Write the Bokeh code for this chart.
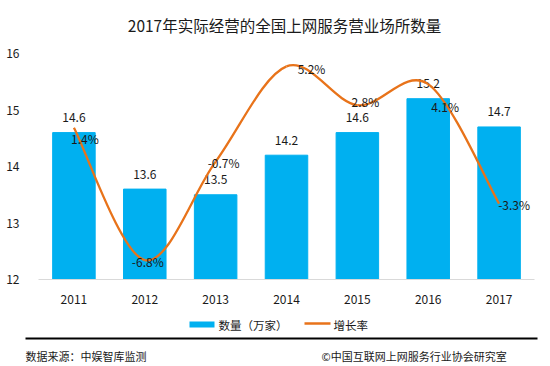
from bokeh.plotting import figure
from bokeh.models import (Range1d, FixedTicker, Label, Arrow, ColumnDataSource)
from bokeh.core.properties import value
from bokeh.embed import file_html
from bokeh.resources import INLINE

# ---- data ----
years = ["2011", "2012", "2013", "2014", "2015", "2016", "2017"]
counts = [14.6, 13.6, 13.5, 14.2, 14.6, 15.2, 14.7]          # 万家
rates = [1.4, -6.8, -0.7, 5.2, 2.8, 4.1, -3.3]               # %
y_ticks = [12, 13, 14, 15, 16]
series_names = ["数量（万家）", "增长率"]
title_text = "2017年实际经营的全国上网服务营业场所数量"
source_text = "数据来源：中娱智库监测"
copy_text = "©中国互联网上网服务行业协会研究室"

# ---- style ----
FONT = "Noto Sans CJK SC"
BAR = "#00B0F0"
LINE = "#E8731A"
TXT = "#1a1a1a"
rate_dx = [11, 3, 8, 25, 8, 17, 15]
rate_dy = [11, 1, 1, 2, -4, 22, 1]
W = 550

xs = list(range(len(years)))


def strip(h):
    f = figure(width=W, height=h, output_backend="svg", toolbar_location=None,
               x_range=Range1d(0, W), y_range=Range1d(0, h),
               x_axis_location=None, y_axis_location=None, min_border=0)
    f.outline_line_color = None
    f.grid.grid_line_color = None
    return f


def label(fig, x, y, text, size, align="left"):
    fig.add_layout(Label(x=x, y=y, x_units="screen", y_units="screen", text=text,
                         text_align=align, text_baseline="middle", text_font=FONT,
                         text_font_size=size, text_color=TXT))


def hline(fig, xa, xb, y, color, width):
    fig.add_layout(Arrow(end=None, x_start=xa, y_start=y, x_end=xb, y_end=y,
                         start_units="screen", end_units="screen", line_color=color,
                         line_width=width, line_cap="butt"))


# ---------- title strip ----------
pt = strip(40)
label(pt, 284, 16, title_text, "15.5px", "center")

# ---------- main chart ----------
p = figure(width=W, height=270, output_backend="svg", toolbar_location=None,
           x_range=Range1d(-0.5, len(years) - 0.5), y_range=Range1d(12, 16),
           min_border_left=38, min_border_right=16, min_border_top=13,
           min_border_bottom=31)
p.extra_y_ranges = {"rate": Range1d(-8, 6)}
p.outline_line_color = None
p.xgrid.grid_line_color = None
p.ygrid.grid_line_color = None

bar_src = ColumnDataSource(dict(x=xs, top=counts, lab=[f"{v}" for v in counts]))
p.vbar(x="x", top="top", bottom=12, width=0.6, color=BAR, source=bar_src)
p.text(x="x", y="top", text="lab", source=bar_src, y_offset=-15,
       text_align="center", text_baseline="middle", text_font=value(FONT),
       text_font_size="12px", text_color=TXT)

# smooth line via cubic bezier segments (Catmull-Rom control points)
n = len(rates)
x0, y0, x1, y1, cx0, cy0, cx1, cy1 = ([] for _ in range(8))
for i in range(n - 1):
    a = max(i - 1, 0)
    b = min(i + 2, n - 1)
    x0.append(xs[i]); y0.append(rates[i])
    x1.append(xs[i + 1]); y1.append(rates[i + 1])
    cx0.append(xs[i] + (xs[i + 1] - xs[a]) / 6.0)
    cy0.append(rates[i] + (rates[i + 1] - rates[a]) / 6.0)
    cx1.append(xs[i + 1] - (xs[b] - xs[i]) / 6.0)
    cy1.append(rates[i + 1] - (rates[b] - rates[i]) / 6.0)
p.bezier(x0=x0, y0=y0, x1=x1, y1=y1, cx0=cx0, cy0=cy0, cx1=cx1, cy1=cy1,
         line_color=LINE, line_width=2.3, y_range_name="rate")

rate_src = ColumnDataSource(dict(x=xs, y=rates, lab=[f"{r}%" for r in rates],
                                 dx=rate_dx, dy=rate_dy))
p.text(x="x", y="y", text="lab", source=rate_src, x_offset="dx", y_offset="dy",
       y_range_name="rate", text_align="center", text_baseline="middle",
       text_font=value(FONT), text_font_size="12px", text_color=TXT)

p.xaxis.ticker = FixedTicker(ticks=xs)
p.xaxis.major_label_overrides = {i: y for i, y in zip(xs, years)}
p.xaxis.axis_line_color = "#D9D9D9"
p.xaxis.axis_line_width = 1
p.xaxis.major_tick_line_color = None
p.xaxis.minor_tick_line_color = None
p.xaxis.major_label_standoff = 9
p.yaxis.ticker = FixedTicker(ticks=y_ticks)
p.yaxis.axis_line_color = None
p.yaxis.major_tick_line_color = None
p.yaxis.minor_tick_line_color = None
p.yaxis.major_label_standoff = 13
for ax in (p.xaxis, p.yaxis):
    ax.major_label_text_font = FONT
    ax.major_label_text_font_size = "12px"
    ax.major_label_text_color = TXT

# ---------- legend + footer strip ----------
pb = strip(56)
hline(pb, 189, 214, 42, BAR, 6)
label(pb, 218, 42, series_names[0], "11.5px")
hline(pb, 304, 330, 43, LINE, 2.3)
label(pb, 333, 42, series_names[1], "11.5px")
hline(pb, 25, 537, 28, "black", 2)
label(pb, 25, 11, source_text, "11px")
label(pb, 321, 11, copy_text, "11px")

open("out.html", "w").write(file_html([pt, p, pb], INLINE))
